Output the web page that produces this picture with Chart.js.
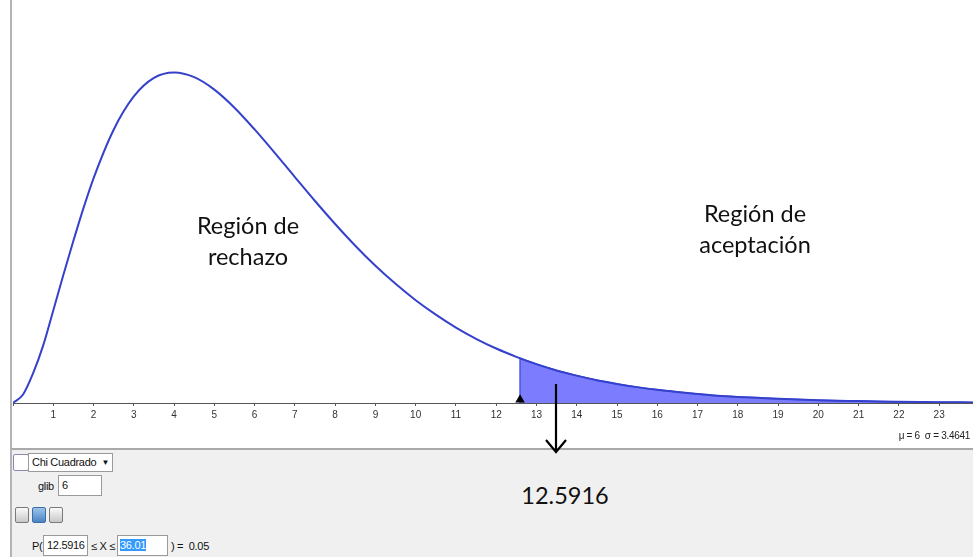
<!DOCTYPE html>
<html lang="es">
<head>
<meta charset="UTF-8">
<title>Chi Cuadrado glib 6</title>
<script src="https://cdn.jsdelivr.net/npm/chart.js"></script>
<style>
  html, body { margin: 0; padding: 0; background: #fff; }
  #wrap { position: relative; width: 973px; height: 557px; overflow: hidden; font-family: "Liberation Sans", Arial, sans-serif; }
  #chartBox { position: absolute; left: 0; top: 0; width: 973px; height: 448px; }
  #leftLine { position: absolute; left: 10px; top: 0; width: 2px; height: 557px; background: #b4b4b8; z-index: 3; }
  .big { position: absolute; font-family: Lato, "Open Sans", sans-serif; font-size: 23.5px; color: #111; text-align: center; line-height: 31px; }
  #stats { position: absolute; right: 3px; top: 430px; font-size: 10px; color: #222; letter-spacing: -0.3px; }
  #panel { position: absolute; left: 11px; top: 448px; width: 962px; height: 109px; background: #f0f0f0; border-top: 2px solid #a9a9a9; font-size: 11px; color: #111; }
  .box { position: absolute; background: #fff; border: 1px solid #9a9a9a; box-sizing: border-box; font-size: 11px; line-height: 17px; padding-left: 3px; letter-spacing: -0.3px; }
  .lbl { position: absolute; font-size: 11px; letter-spacing: -0.3px; }
  .ico { position: absolute; width: 14px; height: 16px; border: 1px solid #7a7a7a; border-radius: 2px; background: linear-gradient(#fafafa, #c8c8c8); box-sizing: border-box; }
  #arrow { position: absolute; left: 0; top: 0; z-index: 4; }
</style>
</head>
<body>
<div id="wrap">
  <div id="chartBox"><canvas id="chiChart"></canvas></div>
  <div id="leftLine"></div>

  <div class="big" style="left:168px; top:210px; width:160px;">Región de<br>rechazo</div>
  <div class="big" style="left:665px; top:198px; width:180px;">Región de<br>aceptación</div>
  <div id="stats">μ = 6 &nbsp;σ = 3.4641</div>

  <div id="panel">
    <div class="ico" style="left:2px; top:4px; width:16px; height:17px; background:#fff; border-color:#8a8ab0;"></div>
    <div class="box" style="left:17px; top:3px; width:85px; height:19px;">Chi Cuadrado<span style="position:absolute; right:3px; top:0; font-size:8px;">▼</span></div>
    <div class="lbl" style="left:27px; top:30px;">glib</div>
    <div class="box" style="left:47px; top:25px; width:44px; height:21px; line-height:19px;">6</div>
    <div class="ico" style="left:4px; top:57px;"></div>
    <div class="ico" style="left:21px; top:57px; border-color:#3a6ea5; background:linear-gradient(#9cc4ec,#4a84c4);"></div>
    <div class="ico" style="left:38px; top:57px;"></div>
    <div class="lbl" style="left:21px; top:90px;">P(</div>
    <div class="box" style="left:32px; top:85px; width:45px; height:21px; line-height:19px;">12.5916</div>
    <div class="lbl" style="left:80px; top:90px;">≤ X ≤</div>
    <div class="box" style="left:106px; top:85px; width:51px; height:21px; line-height:19px; padding-left:2px;"><span style="background:#3399ff; color:#fff;">36.01</span></div>
    <div class="lbl" style="left:160px; top:90px;">) = &nbsp;0.05</div>
    <div class="big" style="left:479px; top:30px; width:150px;">12.5916</div>
  </div>

  <svg id="arrow" width="973" height="557">
    <line x1="556" y1="384" x2="556" y2="452" stroke="#000" stroke-width="2.2"/>
    <polyline points="546,440 556,452 566,440" fill="none" stroke="#000" stroke-width="2.2"/>
  </svg>
</div>

<script>
// valores (densidad chi cuadrado, 6 gl)
const xValues = [0, 0.25, 0.5, 0.75, 1, 1.25, 1.5, 1.75, 2, 2.5, 3, 3.5, 4, 4.5, 5, 5.5, 6, 6.5, 7, 7.5, 8, 8.5, 9, 9.5,
  10, 10.5, 11, 11.5, 12, 12.5, 13, 13.5, 14, 14.5, 15, 15.5, 16, 16.5, 17, 17.5, 18, 18.5, 19, 19.5,
  20, 20.5, 21, 21.5, 22, 22.5, 23, 23.5, 24];
const yValues = [0, 0.0035, 0.0122, 0.0236, 0.0379, 0.0524, 0.0664, 0.0798, 0.0920, 0.1119, 0.1255, 0.1331, 0.1353, 0.1334, 0.1283, 0.1209, 0.1120, 0.1024, 0.0925, 0.0827, 0.0733, 0.0644, 0.0562, 0.0488,
  0.0421, 0.0362, 0.0309, 0.0263, 0.0223, 0.0189, 0.0159, 0.0133, 0.0112, 0.0093, 0.0078, 0.0065, 0.0054, 0.0045, 0.0037, 0.0030, 0.0025, 0.0021, 0.0017, 0.0014,
  0.0011, 0.0009, 0.0008, 0.0006, 0.0005, 0.0004, 0.0003, 0.0003, 0.0002];
const critico = 12.5916;
const yCritico = 0.0183;
const yMarca = 0.0013; // triangulo negro apoyado en el eje

// region sombreada desde el valor critico
const shade = [{ x: critico, y: 0 }, { x: critico, y: yCritico }];
xValues.forEach((x, i) => { if (x > critico) shade.push({ x: x, y: yValues[i] }); });

const curve = xValues.map((x, i) => ({ x: x, y: yValues[i] }));

new Chart(document.getElementById('chiChart'), {
  type: 'line',
  data: {
    datasets: [
      {
        data: [{ x: critico, y: yMarca }],
        pointStyle: 'triangle',
        pointRadius: 5.5,
        backgroundColor: '#000',
        borderColor: '#000',
        borderWidth: 0,
        showLine: false,
        clip: false
      },
      {
        data: curve,
        borderColor: '#3541cb',
        borderWidth: 2,
        pointRadius: 0,
        fill: false,
        cubicInterpolationMode: 'monotone'
      },
      {
        data: shade,
        borderColor: '#4a55e0',
        borderWidth: 1.5,
        backgroundColor: '#7c7cff',
        pointRadius: 0,
        tension: 0,
        fill: 'origin'
      }
    ]
  },
  options: {
    responsive: true,
    maintainAspectRatio: false,
    animation: false,
    layout: { autoPadding: false, padding: { left: 13, right: 0, top: 0, bottom: 21 } },
    plugins: { legend: { display: false }, tooltip: { enabled: false } },
    scales: {
      x: {
        type: 'linear',
        min: 0,
        max: 23.84,
        afterFit: s => { s.height = 24; s.paddingLeft = 0; s.paddingRight = 0; },
        border: { color: '#555', width: 1 },
        grid: { drawOnChartArea: false, tickLength: 3, color: '#555' },
        ticks: {
          stepSize: 1,
          includeBounds: false,
          maxRotation: 0,
          autoSkip: false,
          padding: 3,
          color: '#333',
          font: { family: 'Liberation Sans', size: 10 },
          callback: v => v === 0 ? '' : v
        }
      },
      y: {
        display: false,
        min: 0,
        max: 0.165
      }
    }
  }
});
</script>
</body>
</html>
